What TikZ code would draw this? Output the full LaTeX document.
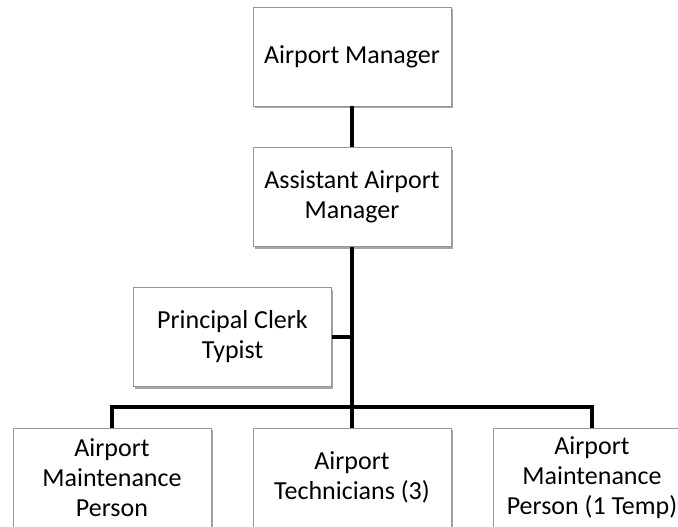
\documentclass[tikz,border=0pt]{standalone}
\usepackage{fontspec}
\setmainfont{Carlito}
\usetikzlibrary{shadows}
\definecolor{boxline}{RGB}{150,150,150}
\begin{document}
\begin{tikzpicture}[x=1pt,y=-1pt,
  orgbox/.style={draw=boxline, line width=0.8pt, fill=white,
    minimum width=198pt, minimum height=99pt, inner sep=2pt,
    align=center, font=\fontsize{26}{30}\selectfont,
    drop shadow={shadow xshift=1.5pt, shadow yshift=-2pt, opacity=0.35, fill=black}},
  link/.style={line width=4.5pt, black}]
\useasboundingbox (0,0) rectangle (678,527);

% upper chain
\node[orgbox] (am)  at (352,56.5) {Airport Manager};
\node[orgbox] (aam) at (352,197)  {Assistant Airport\\Manager};
\node[orgbox] (pct) at (232.5,337) {Principal Clerk\\Typist};

% bottom row
\node[orgbox] (amp)  at (112,477.5) {Airport\\Maintenance\\Person};
\node[orgbox] (tech) at (352,477.5) {Airport\\Technicians (3)};
\node[orgbox] (ampt) at (592,477.5) {Airport\\Maintenance\\Person (1 Temp)};

% connectors
\coordinate (bus) at (352,407);
\draw[link] (am.south) -- (aam.north);
\draw[link] (aam.south) -- (tech.north);
\draw[link] (pct.east) -- (pct.east -| aam.south);
\draw[link] (amp.north) -- (amp.north |- bus) -- (ampt.north |- bus) -- (ampt.north);
\end{tikzpicture}
\end{document}
